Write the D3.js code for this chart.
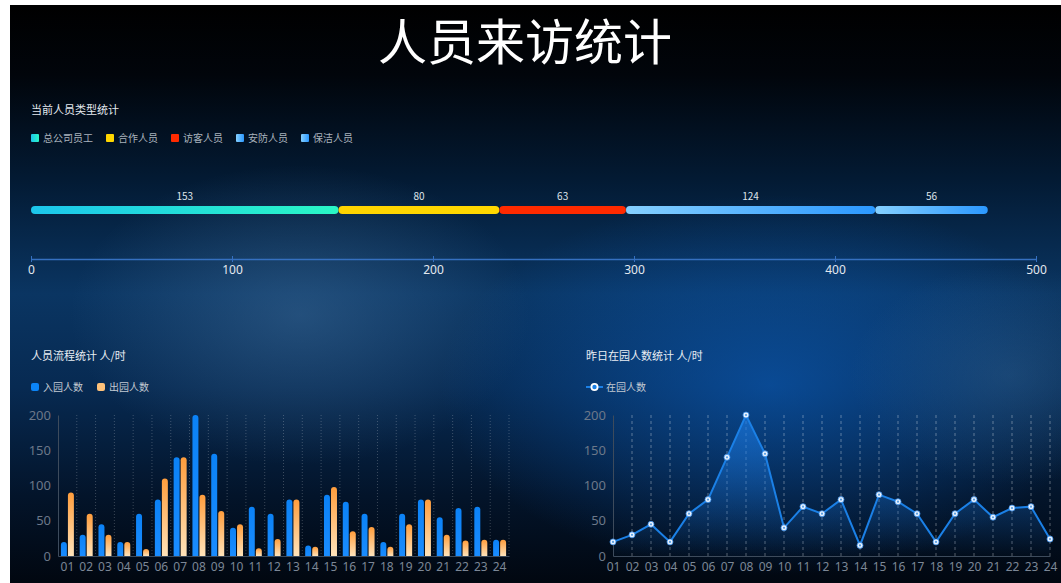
<!DOCTYPE html>
<html><head><meta charset="utf-8">
<script src="https://cdn.jsdelivr.net/npm/d3@7/dist/d3.min.js"></script>
<style>
html,body{margin:0;padding:0;background:#fff;}
svg{display:block;font-family:"Noto Sans CJK SC","Noto Sans",sans-serif;}
</style></head>
<body>
<svg id="chart" width="1061" height="583"></svg>
<script>
// ---- data ----
const typeNames = ["总公司员工", "合作人员", "访客人员", "安防人员", "保洁人员"];
const typeValues = [153, 80, 63, 124, 56];
const typeTicks = [0, 100, 200, 300, 400, 500];
const hours = ["01","02","03","04","05","06","07","08","09","10","11","12","13","14","15","16","17","18","19","20","21","22","23","24"];
const inValues = [20, 30, 45, 20, 60, 80, 140, 200, 145, 40, 70, 60, 80, 15, 87, 77, 60, 20, 60, 80, 55, 68, 70, 23];
const outValues = [90, 60, 30, 20, 10, 110, 140, 87, 64, 45, 11, 24, 80, 13, 98, 35, 41, 13, 45, 80, 30, 22, 23, 23];
const parkValues = [20, 30, 45, 20, 60, 80, 140, 200, 145, 40, 70, 60, 80, 15, 87, 77, 60, 20, 60, 80, 55, 68, 70, 24];
const yTicks = [0, 50, 100, 150, 200];

const svg = d3.select("#chart");
const defs = svg.append("defs");

// background
const bg = defs.append("linearGradient").attr("id","bgv").attr("x1",0).attr("y1",0).attr("x2",0).attr("y2",1);
[[0,"#000000"],[0.12,"#01050b"],[0.3,"#031a33"],[0.5,"#0a3562"],[0.66,"#072a52"],[0.85,"#03142a"],[1,"#010710"]]
  .forEach(s=>bg.append("stop").attr("offset",s[0]).attr("stop-color",s[1]));
function radial(id, color, op){
  const g = defs.append("radialGradient").attr("id",id);
  g.append("stop").attr("offset",0).attr("stop-color",color).attr("stop-opacity",op);
  g.append("stop").attr("offset",1).attr("stop-color",color).attr("stop-opacity",0);
}
radial("glow1","#4a7aa8",0.4);
radial("glow2","#0b5fc0",0.6);
radial("glow3","#3a6a95",0.35);
svg.append("rect").attr("x",10).attr("y",5).attr("width",1051).attr("height",578).attr("fill","url(#bgv)");
const bgClip = defs.append("clipPath").attr("id","bgclip");
bgClip.append("rect").attr("x",10).attr("y",5).attr("width",1051).attr("height",578);
const glows = svg.append("g").attr("clip-path","url(#bgclip)");
glows.append("ellipse").attr("cx",300).attr("cy",315).attr("rx",230).attr("ry",150).attr("fill","url(#glow1)");
glows.append("ellipse").attr("cx",770).attr("cy",385).attr("rx",330).attr("ry",190).attr("fill","url(#glow2)");
glows.append("ellipse").attr("cx",1010).attr("cy",375).attr("rx",160).attr("ry",110).attr("fill","url(#glow3)");

// title
svg.append("text").attr("x",525).attr("y",60).attr("text-anchor","middle")
  .attr("fill","#ffffff").attr("font-size",49).attr("font-weight",400).text("人员来访统计");

// ---- top stacked bar ----
svg.append("text").attr("x",31).attr("y",114).attr("fill","#e4e9ef").attr("font-size",11).text("当前人员类型统计");

function hGrad(id, c1, c2){
  const g = defs.append("linearGradient").attr("id",id).attr("x1",0).attr("y1",0).attr("x2",1).attr("y2",0);
  g.append("stop").attr("offset",0).attr("stop-color",c1);
  g.append("stop").attr("offset",1).attr("stop-color",c2);
  return "url(#"+id+")";
}
const typeFills = [
  hGrad("g0","#1cc6ec","#2af7c6"),
  hGrad("g1","#ffd400","#ffd800"),
  hGrad("g2","#ff2a00","#ff2a00"),
  hGrad("g3","#85d0ff","#2b98ff"),
  hGrad("g4","#85d0ff","#2b98ff")
];
const legendX = [31, 106, 171, 236, 301];
const lg = svg.append("g");
typeNames.forEach((n,i)=>{
  lg.append("rect").attr("x",legendX[i]).attr("y",134).attr("width",8).attr("height",8).attr("rx",1).attr("fill",typeFills[i]);
  lg.append("text").attr("x",legendX[i]+12).attr("y",141.5).attr("fill","#a9b2bc").attr("font-size",10).text(n);
});

const xTop = d3.scaleLinear().domain([0,500]).range([31,1036]);
let cum = 0;
const segs = typeValues.map((v,i)=>{const s={start:cum,end:cum+v,v:v,i:i}; cum+=v; return s;});
svg.append("g").selectAll("rect").data(segs).join("rect")
  .attr("x",d=>xTop(d.start)).attr("y",206).attr("width",d=>xTop(d.end)-xTop(d.start)).attr("height",8)
  .attr("rx",4).attr("fill",d=>typeFills[d.i]);
svg.append("g").selectAll("text").data(segs).join("text")
  .attr("x",d=>(xTop(d.start)+xTop(d.end))/2).attr("y",200).attr("text-anchor","middle")
  .attr("fill","#dfe4ea").attr("font-size",10).text(d=>d.v);
const axTop = svg.append("g").attr("transform","translate(0,259)")
  .call(d3.axisBottom(xTop).tickValues(typeTicks).tickSize(3).tickPadding(3).tickSizeOuter(0));
axTop.select(".domain").attr("stroke","#3570c0").attr("stroke-width",1.5);
axTop.selectAll(".tick line").attr("stroke","#3570c0").attr("y1",-3).attr("y2",3);
axTop.selectAll(".tick text").attr("fill","#e2e8ef").attr("font-size",12).attr("font-family","'Noto Sans',sans-serif");

// ---- shared y ----
const y = d3.scaleLinear().domain([0,200]).range([556,415]);

// ---- bottom-left grouped bars ----
svg.append("text").attr("x",31).attr("y",360).attr("fill","#e8edf3").attr("font-size",11).text("人员流程统计 人/时");
const blueG = defs.append("linearGradient").attr("id","blueBar").attr("x1",0).attr("y1",0).attr("x2",0).attr("y2",1);
blueG.append("stop").attr("offset",0).attr("stop-color","#0b82f7");
blueG.append("stop").attr("offset",1).attr("stop-color","#1a8cff");
const orG = defs.append("linearGradient").attr("id","orBar").attr("x1",0).attr("y1",0).attr("x2",0).attr("y2",1);
orG.append("stop").attr("offset",0).attr("stop-color","#ff9d3c");
orG.append("stop").attr("offset",1).attr("stop-color","#ffe3ba");
svg.append("rect").attr("x",31).attr("y",383).attr("width",8).attr("height",8).attr("rx",2).attr("fill","#0b84f7");
svg.append("text").attr("x",43).attr("y",390.5).attr("fill","#c3cad3").attr("font-size",10).text("入园人数");
svg.append("rect").attr("x",97).attr("y",383).attr("width",8).attr("height",8).attr("rx",2).attr("fill","#ffc27a");
svg.append("text").attr("x",109).attr("y",390.5).attr("fill","#c3cad3").attr("font-size",10).text("出园人数");

const xb = d3.scaleBand().domain(hours).range([58,509]).padding(0);
const x1 = d3.scaleBand().domain(["in","out"]).range([-6.5,6.5]).paddingInner(0.15);
const gl = svg.append("g");
// grid
gl.selectAll("line.grid").data(hours).join("line").attr("class","grid")
  .attr("x1",d=>xb(d)+xb.bandwidth()).attr("x2",d=>xb(d)+xb.bandwidth())
  .attr("y1",415).attr("y2",556).attr("stroke","rgba(255,255,255,0.22)").attr("stroke-dasharray","1,2");
function topRounded(x,yTop,w,yBase,r){
  const h = yBase-yTop; r = Math.min(r,w/2,h);
  return `M${x},${yBase}V${yTop+r}Q${x},${yTop} ${x+r},${yTop}H${x+w-r}Q${x+w},${yTop} ${x+w},${yTop+r}V${yBase}Z`;
}
const rows = hours.map((h,i)=>({h:h,inV:inValues[i],outV:outValues[i]}));
gl.selectAll("path.in").data(rows).join("path").attr("class","in")
  .attr("d",d=>topRounded(xb(d.h)+xb.bandwidth()/2+x1("in"),y(d.inV),x1.bandwidth(),y(0),3))
  .attr("fill","url(#blueBar)");
gl.selectAll("path.out").data(rows).join("path").attr("class","out")
  .attr("d",d=>topRounded(xb(d.h)+xb.bandwidth()/2+x1("out"),y(d.outV),x1.bandwidth(),y(0),3))
  .attr("fill","url(#orBar)");
const yAxL = gl.append("g").attr("transform","translate(58,0)")
  .call(d3.axisLeft(y).tickValues(yTicks).tickSize(0).tickPadding(7));
yAxL.select(".domain").attr("stroke","#3d4b5c");
yAxL.selectAll(".tick text").attr("fill","#6c7889").attr("font-size",13).attr("font-family","'Noto Sans',sans-serif");
const xAxL = gl.append("g").attr("transform","translate(0,556)")
  .call(d3.axisBottom(xb).tickSize(0).tickPadding(6));
xAxL.select(".domain").attr("stroke","#3d4b5c");
xAxL.selectAll(".tick text").attr("fill","#7c8796").attr("font-size",12).attr("font-family","'Noto Sans',sans-serif");

// ---- bottom-right line ----
svg.append("text").attr("x",586).attr("y",360).attr("fill","#e8edf3").attr("font-size",11).text("昨日在园人数统计 人/时");
svg.append("line").attr("x1",586).attr("x2",603).attr("y1",387).attr("y2",387).attr("stroke","#1b80e6").attr("stroke-width",2);
svg.append("circle").attr("cx",594.5).attr("cy",387).attr("r",4).attr("fill","#ffffff");
svg.append("circle").attr("cx",594.5).attr("cy",387).attr("r",2.2).attr("fill","#1b80e6");
svg.append("text").attr("x",606).attr("y",390.5).attr("fill","#c3cad3").attr("font-size",10).text("在园人数");

const xp = d3.scalePoint().domain(hours).range([613,1050]);
const gr = svg.append("g");
gr.selectAll("line.grid").data(hours.slice(1)).join("line").attr("class","grid")
  .attr("x1",d=>xp(d)).attr("x2",d=>xp(d)).attr("y1",415).attr("y2",556)
  .attr("stroke","rgba(255,255,255,0.35)").attr("stroke-dasharray","3,3");
const areaG = defs.append("linearGradient").attr("id","areaG").attr("gradientUnits","userSpaceOnUse")
  .attr("x1",0).attr("y1",415).attr("x2",0).attr("y2",556);
areaG.append("stop").attr("offset",0).attr("stop-color","#1a78e0").attr("stop-opacity",0.7);
areaG.append("stop").attr("offset",1).attr("stop-color","#1a78e0").attr("stop-opacity",0.02);
const pts = hours.map((h,i)=>({h:h,v:parkValues[i]}));
gr.append("path").datum(pts)
  .attr("d",d3.area().x(d=>xp(d.h)).y0(y(0)).y1(d=>y(d.v)))
  .attr("fill","url(#areaG)");
const yAxR = gr.append("g").attr("transform","translate(613,0)")
  .call(d3.axisLeft(y).tickValues(yTicks).tickSize(0).tickPadding(7));
yAxR.select(".domain").attr("stroke","#3d4b5c");
yAxR.selectAll(".tick text").attr("fill","#6c7889").attr("font-size",13).attr("font-family","'Noto Sans',sans-serif");
const xAxR = gr.append("g").attr("transform","translate(0,556)")
  .call(d3.axisBottom(xp).tickSize(0).tickPadding(6));
xAxR.select(".domain").attr("stroke","#3d4b5c");
xAxR.selectAll(".tick text").attr("fill","#7c8796").attr("font-size",12).attr("font-family","'Noto Sans',sans-serif");
gr.append("path").datum(pts)
  .attr("d",d3.line().x(d=>xp(d.h)).y(d=>y(d.v)))
  .attr("fill","none").attr("stroke","#1b80e6").attr("stroke-width",2);
gr.selectAll("circle.pt").data(pts).join("circle").attr("class","pt")
  .attr("cx",d=>xp(d.h)).attr("cy",d=>y(d.v)).attr("r",3).attr("fill","#e8f2ff").attr("stroke","#3a8ee8").attr("stroke-width",0.8);
gr.selectAll("circle.ptin").data(pts).join("circle").attr("class","ptin")
  .attr("cx",d=>xp(d.h)).attr("cy",d=>y(d.v)).attr("r",1.1).attr("fill","#5a9ee0");
</script>
</body></html>
